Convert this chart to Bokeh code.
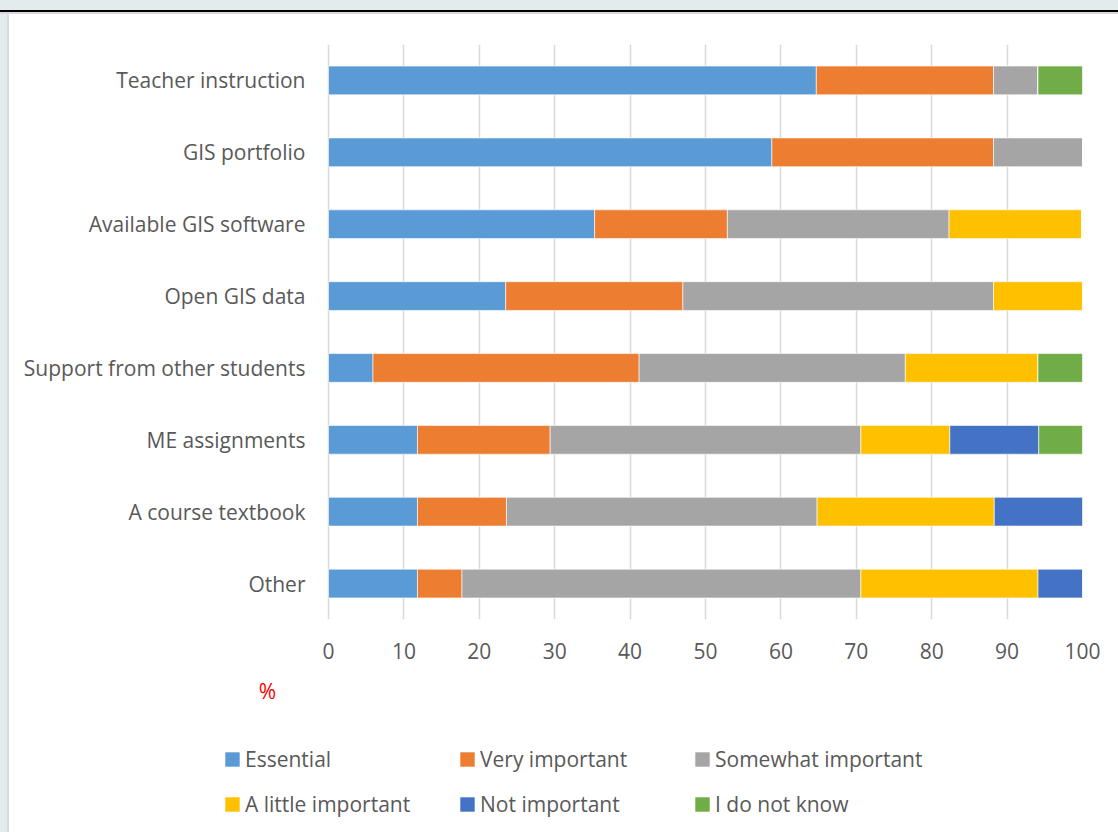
from bokeh.plotting import figure
from bokeh.models import Range1d, FactorRange, Legend, LegendItem, ColumnDataSource, FixedTicker, Div
from bokeh.layouts import column, row
from bokeh.embed import file_html
from bokeh.resources import INLINE
from bokeh.core.properties import value

categories = ["Teacher instruction", "GIS portfolio", "Available GIS software", "Open GIS data",
              "Support from other students", "ME assignments", "A course textbook", "Other"]
series_names = ["Essential", "Very important", "Somewhat important",
                "A little important", "Not important", "I do not know"]
essential = [64.7, 58.8, 35.3, 23.5, 5.9, 11.8, 11.8, 11.8]
very_important = [23.5, 29.4, 17.6, 23.5, 35.3, 17.6, 11.8, 5.9]
somewhat_important = [5.9, 11.8, 29.4, 41.2, 35.3, 41.2, 41.2, 52.9]
a_little_important = [0, 0, 17.6, 11.8, 17.6, 11.8, 23.5, 23.5]
not_important = [0, 0, 0, 0, 0, 11.8, 11.8, 5.9]
i_do_not_know = [5.9, 0, 0, 0, 5.9, 5.9, 0, 0]
colors = ["#5B9BD5", "#ED7D31", "#A5A5A5", "#FFC000", "#4472C4", "#70AD47"]
x_ticks = [0, 10, 20, 30, 40, 50, 60, 70, 80, 90, 100]
axis_unit = "%"

keys = ["s0", "s1", "s2", "s3", "s4", "s5"]
source = ColumnDataSource(dict(cat=categories, s0=essential, s1=very_important, s2=somewhat_important,
                               s3=a_little_important, s4=not_important, s5=i_do_not_know))

FONT = "Open Sans"
TXT = "#595959"
FS = "21px"

# page geometry: plot frame spans page x 211..1082, value 0 sits at page x 328
FL, FR, ZERO = 211, 1082, 328
x_start = -(ZERO - FL) * 100.0 / (FR - ZERO)
SPLIT = 672  # page y where the bottom strip begins

p = figure(width=1109, height=SPLIT - 14,
           y_range=FactorRange(factors=categories[::-1]), x_range=Range1d(x_start, 100),
           output_backend="svg", toolbar_location=None,
           min_border_left=FL - 9, min_border_right=1118 - FR, min_border_top=30,
           min_border_bottom=SPLIT - 619)
p.outline_line_color = None
p.ygrid.grid_line_color = None
p.xgrid.grid_line_color = "#D9D9D9"
p.xgrid.grid_line_width = 1.5
p.xgrid.ticker = FixedTicker(ticks=x_ticks)

renderers = p.hbar_stack(keys, y="cat", height=0.4, color=colors, source=source,
                         line_color="white", line_width=0.6)

p.xaxis.ticker = FixedTicker(ticks=x_ticks)
for ax in (p.xaxis[0], p.yaxis[0]):
    ax.axis_line_color = None
    ax.major_tick_line_color = None
    ax.minor_tick_line_color = None
    ax.major_tick_in = 0
    ax.major_tick_out = 0
    ax.major_label_text_font = FONT
    ax.major_label_text_font_size = FS
    ax.major_label_text_color = TXT
p.xaxis.major_label_standoff = 23
p.yaxis.major_label_standoff = -(305 - FL)

# ---- bottom strip (page coordinates): unit label + legend ----
p2 = figure(width=1109, height=832 - SPLIT, x_range=Range1d(FL, FR), y_range=Range1d(832, SPLIT),
            output_backend="svg", toolbar_location=None,
            min_border_left=FL - 9, min_border_right=1118 - FR, min_border_top=0, min_border_bottom=0,
            x_axis_location=None, y_axis_location=None)
p2.outline_line_color = None
p2.grid.visible = False
p2.text(x=[267], y=[690], text=[axis_unit], text_color="red", text_font=value(FONT),
        text_font_size=FS, text_align="center", text_baseline="middle")

swatches = [p2.hbar(y=[0], right=[0], height=1, fill_color=c, line_color=None, visible=False)
            for c in colors]
legend = Legend(items=[LegendItem(label=n, renderers=[r]) for n, r in zip(series_names, swatches)],
                ncols=3, location=(223 - FL, 14), orientation="horizontal",
                glyph_width=18, glyph_height=18, label_standoff=4, label_width=196,
                label_height=20, spacing=17, padding=0, margin=0, border_line_color=None,
                background_fill_alpha=0, label_text_font=FONT, label_text_font_size=FS,
                label_text_color=TXT)
p2.add_layout(legend, "center")

top = Div(width=1118, height=14, margin=0,
          styles={"background": "linear-gradient(to bottom, #E3EBEC 0px, #E3EBEC 10px, #000 10px, #000 12px, #D9D9D9 12px, #D9D9D9 14px)"})
left = Div(width=9, height=818, margin=0,
           styles={"background": "linear-gradient(to right, #E3EBEC 0px, #E3EBEC 7px, #D5DADB 7px, #D5DADB 9px)"})

layout = column(top, row(left, column(p, p2, spacing=0), spacing=0), spacing=0)

open("out.html", "w").write(file_html(layout, INLINE))
